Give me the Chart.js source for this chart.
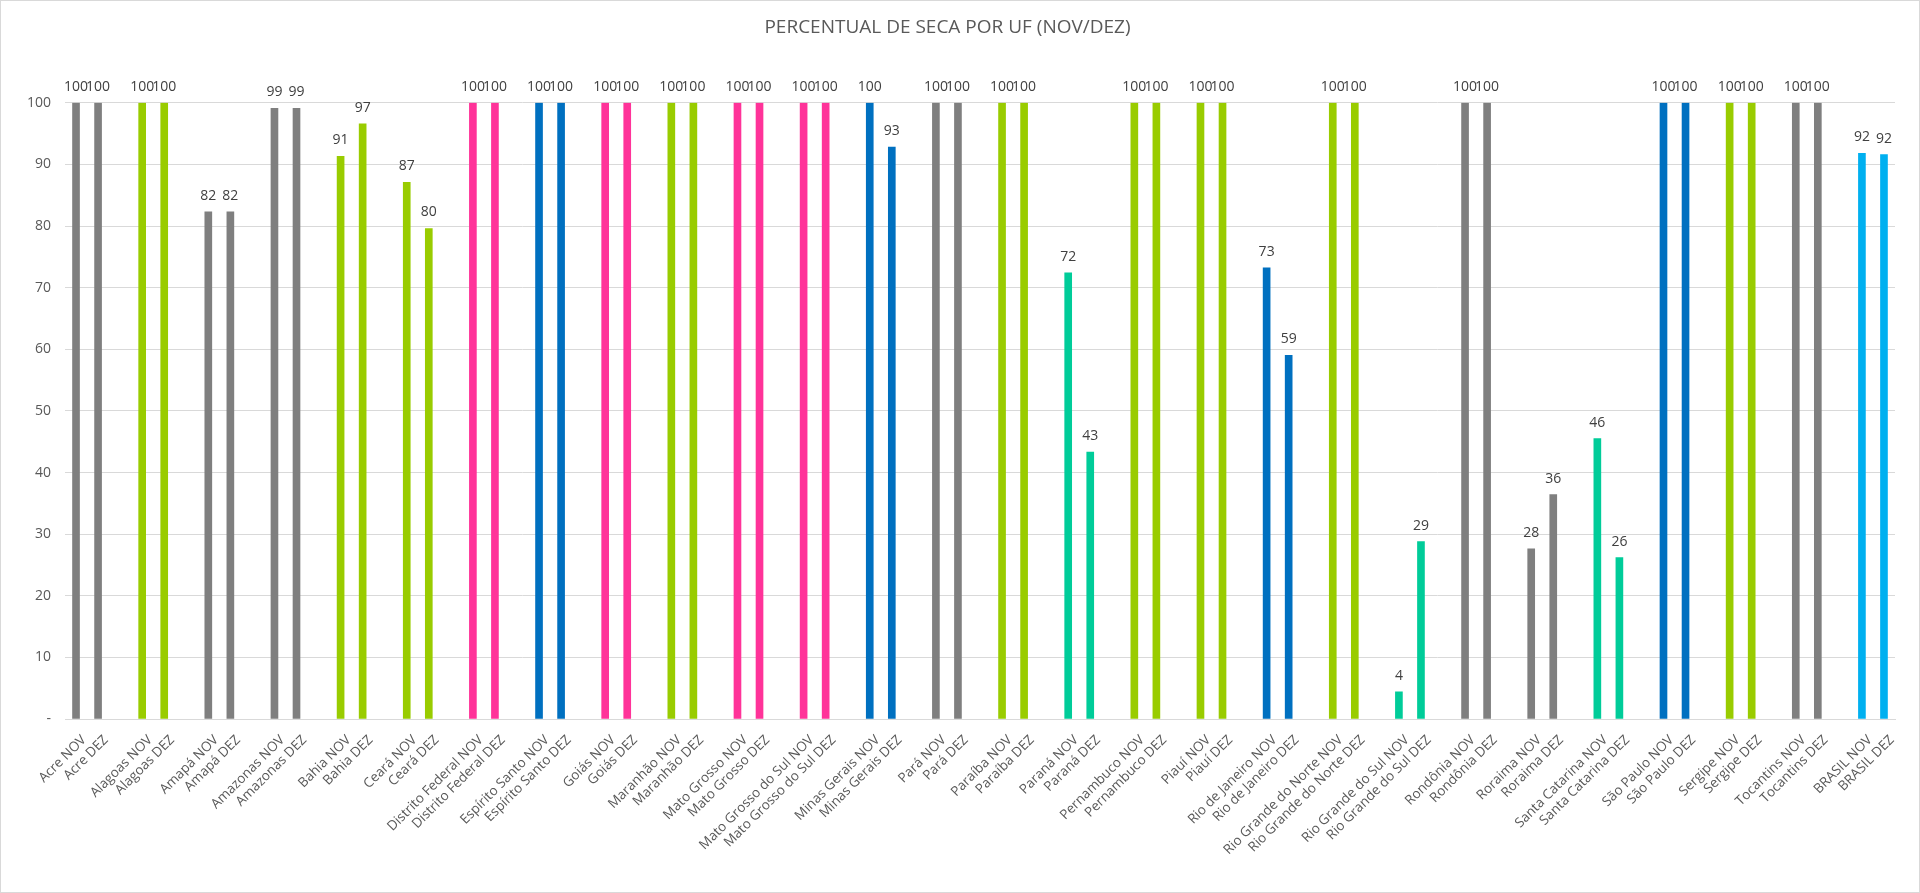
<!DOCTYPE html>
<html>
<head>
<meta charset="utf-8">
<script src="https://cdn.jsdelivr.net/npm/chart.js@4/dist/chart.umd.min.js"></script>
<style>
  html, body { margin: 0; padding: 0; background: #fff; }
  #wrap { width: 1920px; height: 893px; position: relative; }
</style>
</head>
<body>
<div id="wrap"><canvas id="chart-seca"></canvas></div>
<script>
// Percentual de seca por UF — novembro / dezembro
const ufs = [
    'Acre', 'Alagoas', 'Amapá', 'Amazonas', 'Bahia', 'Ceará', 'Distrito Federal',
    'Espírito Santo', 'Goiás', 'Maranhão', 'Mato Grosso', 'Mato Grosso do Sul',
    'Minas Gerais', 'Pará', 'Paraíba', 'Paraná', 'Pernambuco', 'Piauí',
    'Rio de Janeiro', 'Rio Grande do Norte', 'Rio Grande do Sul', 'Rondônia',
    'Roraima', 'Santa Catarina', 'São Paulo', 'Sergipe', 'Tocantins', 'BRASIL'
];
const novValues = [100, 100, 82.3, 99.1, 91.3, 87.1, 100, 100, 100, 100, 100, 100, 100, 100,
    100, 72.4, 100, 100, 73.2, 100, 4.4, 100, 27.6, 45.5, 100, 100, 100, 91.8];
const dezValues = [100, 100, 82.3, 99.1, 96.6, 79.6, 100, 100, 100, 100, 100, 100, 92.8, 100,
    100, 43.3, 100, 100, 59.0, 100, 28.8, 100, 36.4, 26.2, 100, 100, 100, 91.6];
// region colour group of each UF
const ufGroup = ['gray', 'green', 'gray', 'gray', 'green', 'green', 'pink',
    'blue', 'pink', 'green', 'pink', 'pink',
    'blue', 'gray', 'green', 'teal', 'green', 'green',
    'blue', 'green', 'teal', 'gray',
    'gray', 'teal', 'blue', 'green', 'gray', 'sky'];
const yTicks = [0, 10, 20, 30, 40, 50, 60, 70, 80, 90, 100];

const palette = {
    gray: '#7f7f7f', green: '#99cc00', pink: '#ff3399',
    blue: '#0070c0', teal: '#00cc99', sky: '#00b0f0'
};
const textColor = '#595959';
const gridColor = '#d9d9d9';
const fontFamily = '"Open Sans", sans-serif';

// build the flat category list: NOV, DEZ, gap
const labels = [];
const values = [];
const colors = [];
ufs.forEach((uf, i) => {
    labels.push(uf + ' NOV', uf + ' DEZ');
    values.push(novValues[i], dezValues[i]);
    colors.push(palette[ufGroup[i]], palette[ufGroup[i]]);
    if (i < ufs.length - 1) {
        labels.push('');
        values.push(null);
        colors.push('transparent');
    }
});

// white background + light frame
const framePlugin = {
    id: 'frame',
    beforeDraw(chart) {
        const { ctx, width, height } = chart;
        ctx.save();
        ctx.fillStyle = '#fff';
        ctx.fillRect(0, 0, width, height);
        ctx.strokeStyle = gridColor;
        ctx.lineWidth = 1;
        ctx.strokeRect(0.5, 0.5, width - 1, height - 1);
        ctx.restore();
    }
};

// value labels above bars
const valueLabels = {
    id: 'valueLabels',
    afterDatasetsDraw(chart) {
        const { ctx } = chart;
        const meta = chart.getDatasetMeta(0);
        ctx.save();
        ctx.font = '14px ' + fontFamily;
        ctx.fillStyle = '#404040';
        ctx.textAlign = 'center';
        ctx.textBaseline = 'middle';
        meta.data.forEach((bar, i) => {
            const v = values[i];
            if (v == null) return;
            ctx.fillText(String(Math.round(v)), bar.x, bar.y - 16);
        });
        ctx.restore();
    }
};

new Chart(document.getElementById('chart-seca').getContext('2d'), {
    type: 'bar',
    data: {
        labels: labels,
        datasets: [{
            label: 'Seca',
            data: values,
            backgroundColor: colors,
            barThickness: 7,
            borderWidth: 0
        }]
    },
    options: {
        responsive: true,
        maintainAspectRatio: false,
        animation: false,
        layout: { padding: { left: 0, right: 25, top: 0, bottom: 0 } },
        plugins: {
            legend: { display: false },
            tooltip: { enabled: false },
            title: {
                display: true,
                text: 'PERCENTUAL DE SECA POR UF (NOV/DEZ)',
                color: textColor,
                font: { family: fontFamily, size: 19, weight: 'normal' },
                padding: { top: 16, bottom: 64 }
            }
        },
        scales: {
            x: {
                grid: { display: false },
                border: { display: true, color: gridColor },
                ticks: {
                    color: textColor,
                    font: { family: fontFamily, size: 13.5 },
                    autoSkip: false,
                    minRotation: 45,
                    maxRotation: 45,
                    padding: 5,
                    labelOffset: 8
                },
                afterFit: (scale) => { scale.height = 174; }
            },
            y: {
                min: 0,
                max: 100,
                afterBuildTicks: (scale) => { scale.ticks = yTicks.map(v => ({ value: v })); },
                grid: { color: gridColor, drawTicks: false },
                border: { display: false },
                ticks: {
                    color: textColor,
                    font: { family: fontFamily, size: 14 },
                    padding: 14,
                    callback: (v) => v === 0 ? '-' : v
                },
                afterFit: (scale) => { scale.width = 65; }
            }
        }
    },
    plugins: [framePlugin, valueLabels]
});
</script>
</body>
</html>
